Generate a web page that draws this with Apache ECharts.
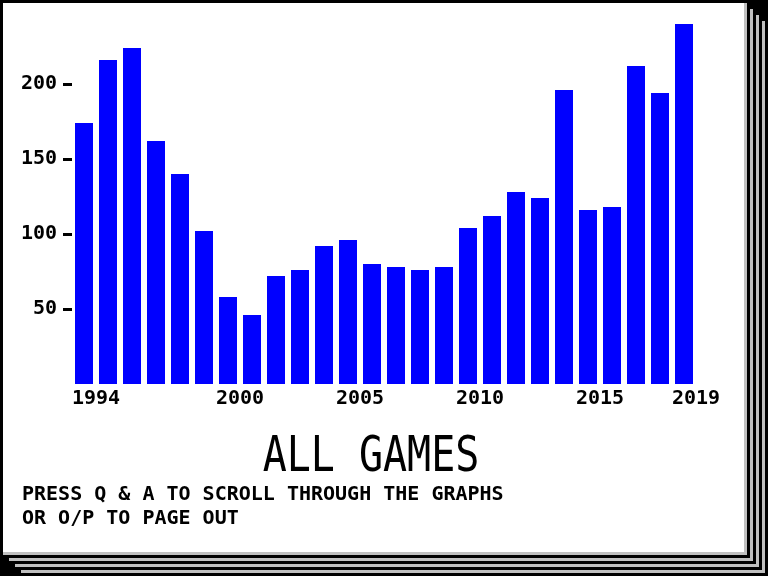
<!DOCTYPE html>
<html><head><meta charset="utf-8">
<script src="https://cdn.jsdelivr.net/npm/echarts@6/dist/echarts.min.js"></script>
<style>html,body{margin:0;padding:0;background:#000}#c{width:768px;height:576px}</style>
</head><body><div id="c"></div><script>
const years = ['1994','1995','1996','1997','1998','1999','2000','2001','2002','2003','2004','2005','2006','2007','2008','2009','2010','2011','2012','2013','2014','2015','2016','2017','2018','2019'];
const counts = [174,216,224,162,140,102,58,46,72,76,92,96,80,78,76,78,104,112,128,124,196,116,118,212,194,240];
const shownYears = ['1994','2000','2005','2010','2015','2019'];
const yTicks = [50,100,150,200];
const titleText = 'ALL GAMES';
const helpLines = ['PRESS Q & A TO SCROLL THROUGH THE GRAPHS', 'OR O/P TO PAGE OUT'];

const FONT = '"DejaVu Sans Mono", "Liberation Mono", monospace';
const chart = echarts.init(document.getElementById('c'));

// stacked "pages" frame (decoration)
const frame = [];
for (let k = 3; k >= 0; k--) {
  frame.push({type:'rect', shape:{x:3+6*k, y:3+6*k, width:744, height:552}, style:{fill:'#c0c0c0'}, z:-10});
  frame.push({type:'rect', shape:{x:3+6*k, y:3+6*k, width:741, height:549}, style:{fill: k === 0 ? '#ffffff' : '#000000'}, z:-10});
}
const texts = [
  {type:'text', x:371, y:458, scaleY:1.24, z:10,
   style:{text:titleText, fontFamily:FONT, fontSize:40, fontWeight:'normal', fill:'#000', align:'center', verticalAlign:'middle'}},
  {type:'text', x:22, y:495, z:10,
   style:{text:helpLines[0], fontFamily:FONT, fontSize:20, fontWeight:'bold', fill:'#000', align:'left', verticalAlign:'middle'}},
  {type:'text', x:22, y:519, z:10,
   style:{text:helpLines[1], fontFamily:FONT, fontSize:20, fontWeight:'bold', fill:'#000', align:'left', verticalAlign:'middle'}}
];

chart.setOption({
  backgroundColor:'#000',
  animation:false,
  graphic: frame.concat(texts),
  grid:{left:72, right:72, top:9, bottom:192, containLabel:false},
  xAxis:[
    {type:'category', data:years, boundaryGap:true,
     axisLine:{show:false}, axisTick:{show:false}, axisLabel:{show:false}},
    {type:'category', data:years.concat(['']), boundaryGap:false, position:'bottom',
     axisLine:{show:false}, axisTick:{show:false},
     axisLabel:{show:true, align:'left', margin:5, fontFamily:FONT, fontSize:20, fontWeight:'bold', color:'#000',
       interval:function(i, v){ return shownYears.indexOf(v) >= 0; }}}
  ],
  yAxis:{type:'value', min:0, max:250,
    axisLine:{show:false}, splitLine:{show:false},
    axisTick:{show:true, length:9, lineStyle:{color:'#000', width:3}, customValues:yTicks},
    axisLabel:{show:true, margin:15, padding:[6,0,0,0], fontFamily:FONT, fontSize:20, fontWeight:'bold', color:'#000', customValues:yTicks}},
  series:[{type:'bar', xAxisIndex:0, data:counts, barWidth:18, itemStyle:{color:'#0000ff'}}]
});
</script></body></html>
